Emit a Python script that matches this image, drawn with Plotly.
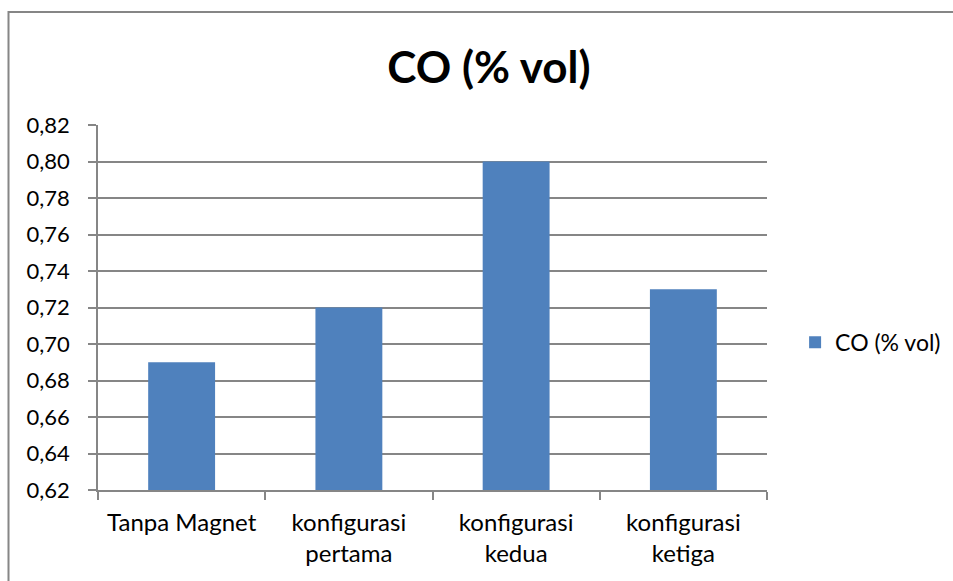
import plotly.graph_objects as go

# CO emission per magnet configuration
categories = ["Tanpa Magnet", "konfigurasi<br>pertama", "konfigurasi<br>kedua", "konfigurasi<br>ketiga"]
co_values = [0.69, 0.72, 0.80, 0.73]
series_name = "CO (% vol)"
y_ticks = [0.62, 0.64, 0.66, 0.68, 0.70, 0.72, 0.74, 0.76, 0.78, 0.80, 0.82]

FONT = "Lato, Calibri, sans-serif"
GRID = "#868686"
BAR = "#4F81BD"

fig = go.Figure()
fig.add_trace(go.Bar(
    x=categories,
    y=co_values,
    name=series_name,
    marker=dict(color=BAR, line=dict(width=0)),
    width=0.4,
    showlegend=True,
))

fig.update_layout(
    width=953,
    height=581,
    margin=dict(l=98, r=186, t=125, b=91, autoexpand=False),
    paper_bgcolor="white",
    plot_bgcolor="white",
    separators=",.",
    font=dict(family=FONT, size=22, color="#000000"),
    title=dict(
        text="<b>CO (% vol)</b>",
        x=489 / 953,
        xanchor="center",
        y=1 - 68 / 581,
        yanchor="middle",
        font=dict(family=FONT, size=44, color="#000000"),
    ),
    showlegend=True,
    legend=dict(
        x=1.042,
        y=0.405,
        xanchor="left",
        yanchor="middle",
        font=dict(family=FONT, size=23),
        bgcolor="rgba(0,0,0,0)",
        itemwidth=30,
    ),
    bargap=0.6,
)

fig.update_xaxes(
    showline=True,
    linecolor=GRID,
    linewidth=1.5,
    ticks="outside",
    tickson="boundaries",
    ticklen=8,
    tickcolor=GRID,
    tickwidth=1.5,
    showgrid=False,
    ticklabelstandoff=10,
    tickfont=dict(family=FONT, size=24),
)

fig.update_yaxes(
    range=[0.62, 0.82],
    tickvals=y_ticks,
    tickformat=".2f",
    showline=True,
    linecolor=GRID,
    linewidth=1.5,
    ticks="outside",
    ticklen=8,
    tickcolor=GRID,
    tickwidth=1.5,
    showgrid=True,
    gridcolor=GRID,
    gridwidth=1.5,
    zeroline=False,
    ticklabelstandoff=14,
    tickfont=dict(family=FONT, size=22),
)

# outer chart border: only its left and top edges fall inside the page
border_left = (8.5 - 98) / 669
border_top = (490 - 12) / 365
fig.add_shape(type="rect", xref="paper", yref="paper",
              x0=border_left, x1=1.6, y0=-0.6, y1=border_top,
              line=dict(color=GRID, width=2), fillcolor="rgba(0,0,0,0)",
              layer="below")

fig.write_html("out.html")
